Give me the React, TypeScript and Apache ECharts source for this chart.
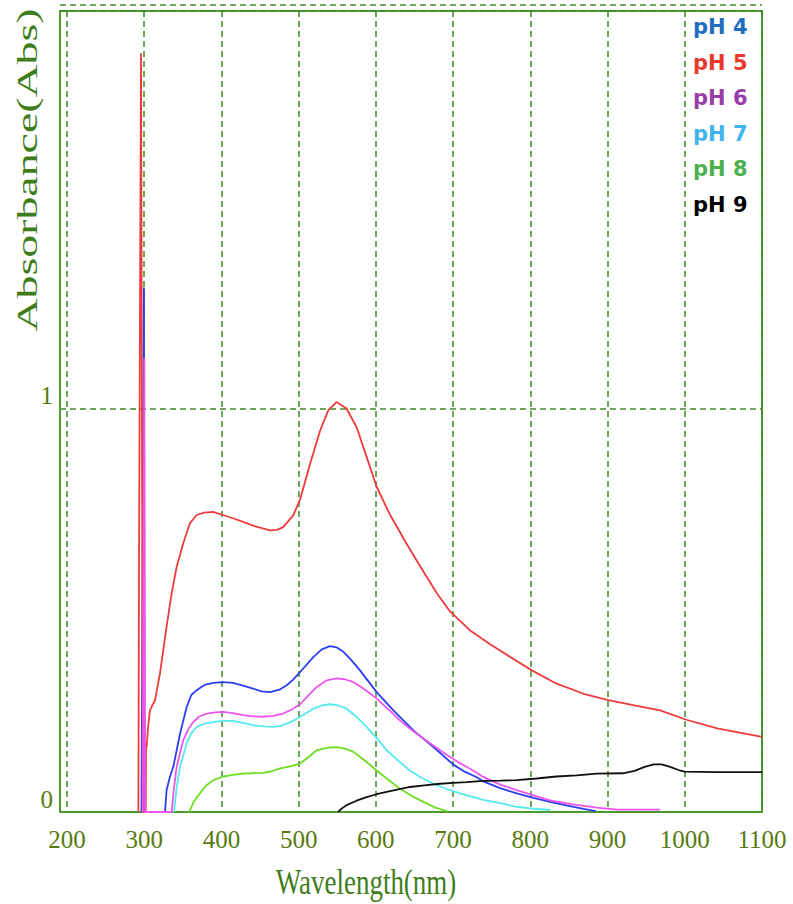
import React, { useEffect, useRef } from "react";
import * as echarts from "echarts";

// ---- Data (wavelength nm, absorbance) ----
const seriesNames = ["pH 4", "pH 5", "pH 6", "pH 7", "pH 8", "pH 9"];
const lineColors = ["#2b3ff0", "#ee3b3b", "#ee55ee", "#55eaf0", "#6edd22", "#111111"];
const legendColors = ["#1e6cc0", "#e8392c", "#9a3ca8", "#40b4ee", "#4caf50", "#000000"];

const xTickLabels = [200, 300, 400, 500, 600, 700, 800, 900, 1000, 1100];
const yTickLabels = [0, 1];

const ph4: number[][] = [
  [296.5, 0], [299.7, 1.3], [300.5, 0], [327, 0], [329, 0.054], [333, 0.085], [337.7, 0.112],
  [346.4, 0.194], [355, 0.26], [361, 0.29], [368, 0.302], [378, 0.315], [389.5, 0.32],
  [402, 0.322], [415, 0.32], [428, 0.313], [441, 0.306], [452, 0.299], [463, 0.297],
  [475, 0.303], [484.6, 0.314], [493, 0.328], [502, 0.347], [519, 0.384], [530, 0.403],
  [540.7, 0.411], [549, 0.408], [558, 0.397], [568, 0.377], [579.5, 0.351], [601, 0.297],
  [622.7, 0.252], [648.6, 0.202], [674.5, 0.161], [700, 0.118], [715, 0.1], [730.6, 0.086],
  [739, 0.076], [761, 0.059], [782.5, 0.046], [804, 0.035], [825.6, 0.025], [848, 0.016],
  [869, 0.008], [885, 0.002],
];

const ph5: number[][] = [
  [292.5, 0], [293.3, 0.6], [295.9, 1.88], [298.4, 0], [302, 0], [302.5, 0.17], [303.2, 0.16],
  [305, 0.21], [307.5, 0.252], [310, 0.262], [314, 0.277], [320.5, 0.344], [329, 0.459],
  [335.6, 0.542], [342, 0.607], [350.6, 0.666], [359.3, 0.716], [368, 0.736], [378, 0.742],
  [389, 0.744], [402, 0.736], [415, 0.728], [428, 0.719], [445, 0.707], [463, 0.698],
  [472, 0.699], [480, 0.706], [493, 0.735], [502, 0.775], [515, 0.864], [528, 0.946],
  [538.5, 0.996], [549, 1.016], [562, 1.0], [575, 0.954], [588, 0.88], [601, 0.806],
  [618, 0.738], [640, 0.664], [661.5, 0.596], [679, 0.542], [696, 0.497], [722, 0.45],
  [748, 0.416], [774, 0.384], [802, 0.351], [834, 0.318], [869, 0.293], [901, 0.277],
  [938, 0.263], [968, 0.252], [1003, 0.228], [1042, 0.207], [1100, 0.186],
];

const ph6: number[][] = [
  [298, 0], [300.2, 1.125], [301.2, 0], [335.6, 0], [338, 0.05], [342, 0.112], [350.6, 0.178],
  [357, 0.205], [363.6, 0.223], [371, 0.236], [381, 0.244], [392, 0.247], [402.5, 0.248],
  [415, 0.245], [428, 0.24], [441, 0.237], [454, 0.236], [467, 0.238], [480, 0.244],
  [491, 0.254], [502, 0.267], [512, 0.288], [523.5, 0.31], [536, 0.326], [549, 0.331],
  [560, 0.329], [571, 0.322], [586, 0.303], [601, 0.281], [616, 0.255], [631, 0.227],
  [646, 0.204], [661.5, 0.182], [677, 0.161], [692, 0.141], [709, 0.121], [726, 0.103],
  [739, 0.087], [761, 0.068], [782.5, 0.054], [804, 0.041], [825.6, 0.029], [855, 0.019],
  [886, 0.011], [912, 0.006], [940, 0.006], [968, 0.006],
];

const ph7: number[][] = [
  [338.6, 0], [342, 0.06], [346.4, 0.112], [355, 0.17], [361, 0.195], [368, 0.211],
  [378, 0.219], [389.5, 0.223], [402, 0.226], [415, 0.226], [428, 0.221], [441, 0.215],
  [454, 0.212], [467, 0.211], [476, 0.213], [484.6, 0.219], [493, 0.226], [502, 0.236],
  [519, 0.256], [530, 0.264], [540.7, 0.267], [551, 0.264], [562, 0.256], [575, 0.236],
  [588, 0.211], [601, 0.183], [614, 0.153], [629, 0.127], [644, 0.103], [659, 0.085],
  [674.5, 0.07], [692, 0.057], [709, 0.046], [739, 0.03], [761, 0.022], [782, 0.013],
  [805, 0.008], [826, 0.005],
];

const ph8: number[][] = [
  [358.4, 0], [364, 0.025], [372, 0.046], [380, 0.065], [389.5, 0.079], [402.5, 0.088],
  [415, 0.092], [428, 0.095], [441, 0.096], [454, 0.097], [465, 0.101], [476, 0.108],
  [489, 0.113], [502, 0.12], [512, 0.135], [523.5, 0.153], [536, 0.159], [549, 0.161],
  [560, 0.157], [571, 0.149], [586, 0.127], [601, 0.103], [616, 0.08], [631, 0.058],
  [646, 0.04], [661.5, 0.025], [677, 0.011], [692, 0.002],
];

const ph9: number[][] = [
  [551, 0], [556, 0.009], [562, 0.017], [575, 0.028], [588, 0.037], [601, 0.044], [614, 0.05],
  [629, 0.056], [644, 0.062], [663, 0.066], [683, 0.07], [700, 0.072], [717.5, 0.074],
  [739, 0.077], [761, 0.078], [782, 0.079], [808, 0.083], [834, 0.088], [860, 0.091],
  [886, 0.095], [920, 0.096], [935, 0.102], [948, 0.112], [960, 0.118], [970, 0.118],
  [981, 0.112], [992, 0.104], [1000, 0.1], [1041, 0.099], [1100, 0.099],
];

const allSeries = [ph4, ph5, ph6, ph7, ph8, ph9];

const GRID_GREEN = "#3d8a26";
const FRAME_GREEN = "#4e9a2e";
const LABEL_COLOR = "#587a0e";
const TITLE_COLOR = "#3f7d1c";
const SERIF = "'Liberation Serif', 'Times New Roman', serif";

export default function App() {
  const ref = useRef<HTMLDivElement>(null);

  useEffect(() => {
    if (!ref.current) return;
    const chart = echarts.init(ref.current, null, { renderer: "svg" });
    const option: any = {
      animation: false,
      backgroundColor: "#ffffff",
      grid: {
        left: 60,
        right: 31,
        top: 11,
        bottom: 92,
        show: true,
        borderColor: FRAME_GREEN,
        borderWidth: 2,
        containLabel: false,
        outerBoundsMode: "none",
      },
      legend: {
        orient: "vertical",
        left: 688,
        top: 16,
        padding: 0,
        itemGap: 14,
        icon: "none",
        itemWidth: 0,
        itemHeight: 22,
        selectedMode: false,
        textStyle: {
          fontFamily: "'DejaVu Sans', 'Noto Sans', sans-serif",
          fontWeight: "bold",
          fontSize: 21,
        },
        data: seriesNames.map((n, i) => ({ name: n, textStyle: { color: legendColors[i] } })),
      },
      xAxis: {
        type: "value",
        min: 191,
        max: 1100,
        axisLine: { show: true, lineStyle: { color: FRAME_GREEN, width: 2 } },
        axisTick: { show: false, customValues: xTickLabels },
        axisLabel: {
          customValues: xTickLabels,
          formatter: (v: number) => String(v),
          color: LABEL_COLOR,
          fontFamily: SERIF,
          fontSize: 25,
          margin: 15,
        },
        splitLine: {
          show: true,
          lineStyle: { color: GRID_GREEN, type: [6, 4], width: 1.5 },
        },
      },
      yAxis: {
        type: "value",
        min: 0,
        max: 1.985,
        interval: 1,
        axisLine: { show: true, lineStyle: { color: FRAME_GREEN, width: 2 } },
        axisTick: { show: false },
        axisLabel: {
          showMaxLabel: false,
          formatter: (v: number) => (yTickLabels.indexOf(v) >= 0 ? String(v) : ""),
          color: LABEL_COLOR,
          fontFamily: SERIF,
          fontSize: 25,
          margin: 7,
          verticalAlign: "bottom",
        },
        splitLine: {
          show: true,
          lineStyle: { color: GRID_GREEN, type: [6, 4], width: 1.5 },
        },
      },
      graphic: [
        {
          type: "line",
          shape: { x1: 60, y1: 5, x2: 762, y2: 5 },
          style: { stroke: GRID_GREEN, lineWidth: 1.5, lineDash: [6, 4] },
        },
        {
          type: "text",
          x: 27,
          y: 170,
          rotation: Math.PI / 2,
          scaleX: 1.58,
          style: {
            text: "Absorbance(Abs)",
            fill: TITLE_COLOR,
            font: `29px ${SERIF}`,
            align: "center",
            verticalAlign: "middle",
          },
        },
        {
          type: "text",
          x: 366,
          y: 882,
          scaleY: 1.3,
          style: {
            text: "Wavelength(nm)",
            fill: TITLE_COLOR,
            font: `27px ${SERIF}`,
            align: "center",
            verticalAlign: "middle",
          },
        },
      ],
      series: allSeries.map((d, i) => ({
        name: seriesNames[i],
        type: "line",
        data: d,
        showSymbol: false,
        symbol: "none",
        color: lineColors[i],
        lineStyle: { color: lineColors[i], width: 1.8 },
      })),
    };
    chart.setOption(option);
    return () => chart.dispose();
  }, []);

  return (
    <div
      ref={ref}
      style={{ position: "fixed", left: 0, top: 0, width: 793, height: 904, background: "#fff" }}
    />
  );
}
